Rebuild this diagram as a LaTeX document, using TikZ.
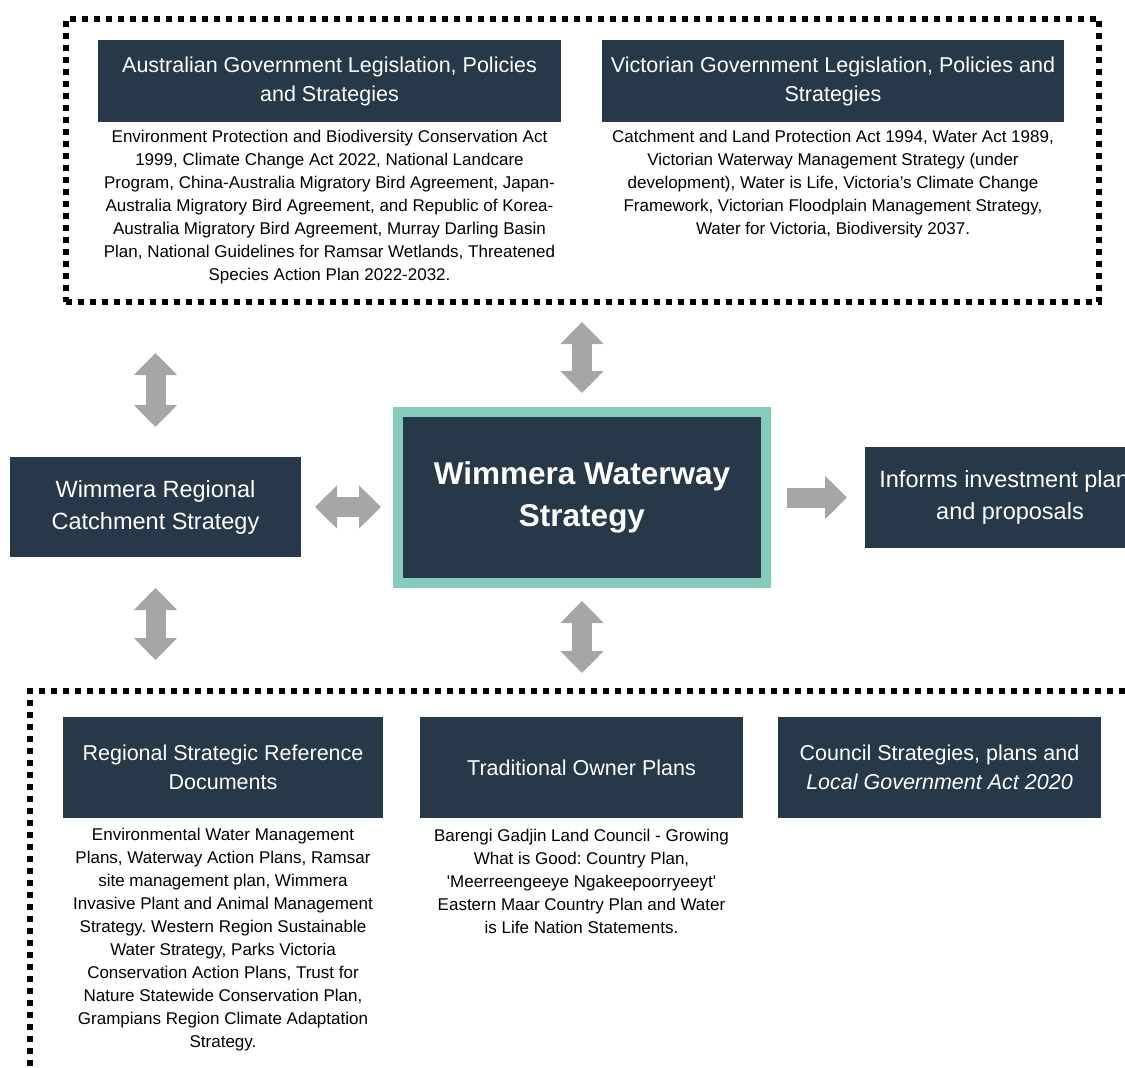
\documentclass[tikz,border=0pt]{standalone}
\usepackage{fontspec}
\setmainfont{Liberation Sans}
\usetikzlibrary{arrows.meta, positioning}
\definecolor{navy}{RGB}{39,56,73}
\definecolor{seafoam}{RGB}{133,204,189}
\definecolor{linkgray}{RGB}{166,166,166}
\newcommand*{\boxfont}{\fontsize{21.5}{29}\selectfont}
\newcommand*{\notefont}{\fontsize{17}{23}\selectfont}
\frenchspacing

\begin{document}
\begin{tikzpicture}[
        x=1pt, y=-1pt, >={Triangle[width=42pt,length=22pt]},
        every node/.style={outer sep=0pt},
        heading/.style={fill=navy, text=white, align=center, font=\boxfont, inner sep=0pt},
        notes/.style={align=center, font=\notefont, inner sep=0pt},
        dotframe/.style={draw, line width=6pt, dash pattern=on 6pt off 6pt},
        link/.style={draw=linkgray, line width=20pt},
        ]
        \useasboundingbox (0,0) rectangle (1125,1068);

        % legislation and policy
        \node[heading, minimum width=463pt, minimum height=82pt] (ausgov) at (329.5,81) {Australian Government Legislation, Policies\\and Strategies};
        \node[notes, below=8pt of ausgov] (ausnotes) {Environment Protection and Biodiversity Conservation Act\\1999, Climate Change Act 2022, National Landcare\\Program, China-Australia Migratory Bird Agreement, Japan-\\Australia Migratory Bird Agreement, and Republic of Korea-\\Australia Migratory Bird Agreement, Murray Darling Basin\\Plan, National Guidelines for Ramsar Wetlands, Threatened\\Species Action Plan 2022-2032.};
        \node[heading, minimum width=462pt, minimum height=82pt] (vicgov) at (833,81) {Victorian Government Legislation, Policies and\\Strategies};
        \node[notes, below=8pt of vicgov] (vicnotes) {Catchment and Land Protection Act 1994, Water Act 1989,\\Victorian Waterway Management Strategy (under\\development), Water is Life, Victoria’s Climate Change\\Framework, Victorian Floodplain Management Strategy,\\Water for Victoria, Biodiversity 2037.};
        \node[dotframe, minimum width=1033pt, minimum height=283.5pt] (upperframe) at (582.5,160.25) {};

        % middle row
        \node[heading, font=\fontsize{23.5}{32}\selectfont, minimum width=291pt, minimum height=100pt] (regional) at (155.5,507) {Wimmera Regional\\Catchment Strategy};
        \node[heading, draw=seafoam, line width=10pt, font=\bfseries\fontsize{31.5}{42}\selectfont, minimum width=368pt, minimum height=171pt] (waterway) at (582,497.5) {Wimmera Waterway\\Strategy};
        \node[heading, font=\fontsize{23.5}{32}\selectfont, minimum width=290pt, minimum height=101pt] (invest) at (1010,497.5) {Informs investment plans\\and proposals};

        % regional and local
        \node[heading, minimum width=320pt, minimum height=101pt] (regdocs) at (223,767.5) {Regional Strategic Reference\\Documents};
        \node[notes, below=10pt of regdocs] (regnotes) {Environmental Water Management\\Plans, Waterway Action Plans, Ramsar\\site management plan, Wimmera\\Invasive Plant and Animal Management\\Strategy. Western Region Sustainable\\Water Strategy, Parks Victoria\\Conservation Action Plans, Trust for\\Nature Statewide Conservation Plan,\\Grampians Region Climate Adaptation\\Strategy.};
        \node[heading, minimum width=323pt, minimum height=101pt] (ownerplans) at (581.5,767.5) {Traditional Owner Plans};
        \node[notes, below=11pt of ownerplans] (ownernotes) {Barengi Gadjin Land Council - Growing\\What is Good: Country Plan,\\\textquotesingle Meerreengeeye Ngakeepoorryeeyt\textquotesingle\\Eastern Maar Country Plan and Water\\is Life Nation Statements.};
        \node[heading, minimum width=323pt, minimum height=101pt] (council) at (939.5,767.5) {Council Strategies, plans and\\\textit{Local Government Act 2020}};
        \node[dotframe, minimum width=1170pt, minimum height=459pt] (lowerframe) at (615,920.5) {};

        \path[<->] (regional.north |- upperframe.south) edge[link, shorten <=51pt, shorten >=30pt] (regional.north)
                   (upperframe.south -| waterway.north) edge[link, shorten <=20pt, shorten >=19pt] (waterway.north)
                   (regional.east) edge[link, shorten <=14pt, shorten >=17pt] (regional.east -| waterway.west)
                   (regional.south) edge[link, shorten <=31pt, shorten >=31pt] (regional.south |- lowerframe.north)
                   (waterway.south) edge[link, shorten <=18pt, shorten >=18pt] (waterway.south |- lowerframe.north);
        \path[->] (waterway.east) edge[link, shorten <=21pt, shorten >=18pt] (invest.west);
\end{tikzpicture}
\end{document}
